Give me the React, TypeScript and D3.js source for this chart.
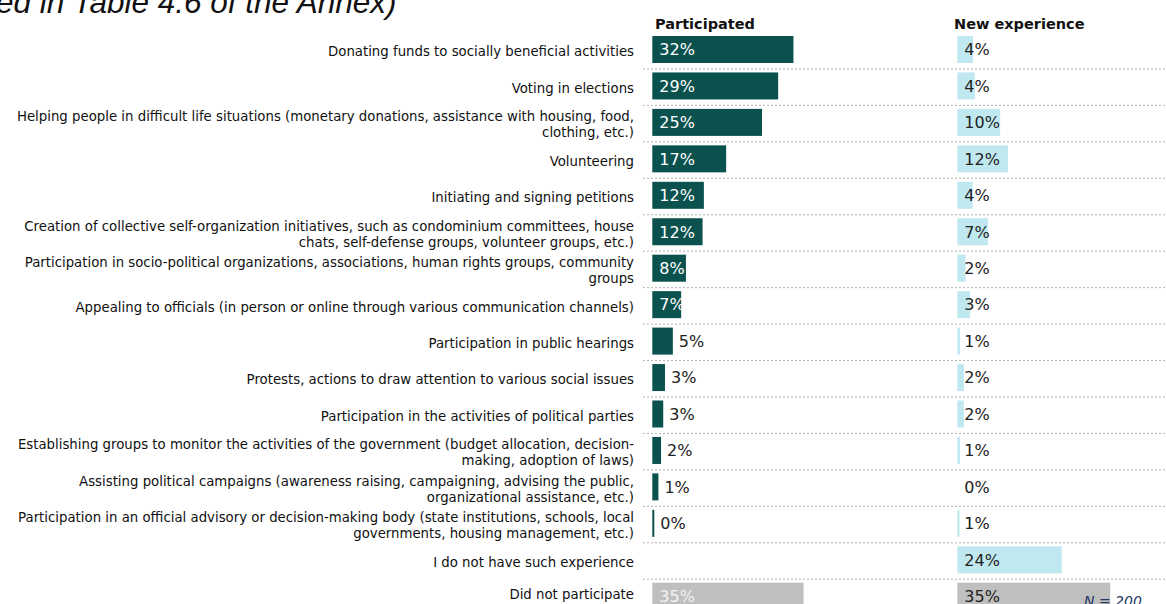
import React from "react";
import * as d3 from "d3";

const categories: string[] = [
  "Donating funds to socially beneficial activities",
  "Voting in elections",
  "Helping people in difficult life situations (monetary donations, assistance with housing, food,\nclothing, etc.)",
  "Volunteering",
  "Initiating and signing petitions",
  "Creation of collective self-organization initiatives, such as condominium committees, house\nchats, self-defense groups, volunteer groups, etc.)",
  "Participation in socio-political organizations, associations, human rights groups, community\ngroups",
  "Appealing to officials (in person or online through various communication channels)",
  "Participation in public hearings",
  "Protests, actions to draw attention to various social issues",
  "Participation in the activities of political parties",
  "Establishing groups to monitor the activities of the government (budget allocation, decision-\nmaking, adoption of laws)",
  "Assisting political campaigns (awareness raising, campaigning, advising the public,\norganizational assistance, etc.)",
  "Participation in an official advisory or decision-making body (state institutions, schools, local\ngovernments, housing management, etc.)",
  "I do not have such experience",
  "Did not participate",
];

// estimated underlying values (%), labels are rounded
const participated: (number | null)[] = [
  32.3, 28.8, 25.1, 16.9, 11.8, 11.5, 7.7, 6.6, 4.7, 2.9, 2.5, 2.0, 1.4, 0.4, null, 34.6,
];
const newExperience: (number | null)[] = [
  3.6, 4.0, 9.8, 11.6, 3.5, 7.0, 1.9, 2.9, 0.6, 1.5, 1.5, 0.6, 0, 0.5, 23.9, 35.0,
];
const columnTitles: string[] = ["Participated", "New experience"];
const sampleNote = "N = 200";
const topText = "ed in Table 4.6 of the Annex)";

const W = 1166;
const H = 604;

export default function App() {
  const n = categories.length;
  const y = d3
    .scaleBand<number>()
    .domain(d3.range(n))
    .range([32, 32 + n * 36.45]);
  const x = d3.scaleLinear().domain([0, 100]).range([0, 437]);
  const x0P = 652.3;
  const x0N = 957.3;
  const barH = 27;
  const teal = "#0b524f";
  const light = "#bfe8f0";
  const gray = "#bfbfbf";
  const labelFont = "'DejaVu Sans', sans-serif";

  const isGrayRow = (i: number) => i === n - 1;

  return (
    <svg
      width={W}
      height={H}
      style={{ position: "absolute", left: 0, top: 0, background: "#fff" }}
    >
      <rect x={0} y={0} width={W} height={H} fill="#fff" />
      <text
        x={-4}
        y={13}
        fontFamily="'Liberation Sans', Arial, sans-serif"
        fontStyle="italic"
        fontSize={31.5}
        fill="#111"
      >
        {topText}
      </text>

      {/* headers */}
      <text x={655} y={29} fontFamily={labelFont} fontWeight="bold" fontSize={14.5} fill="#111">
        {columnTitles[0]}
      </text>
      <text x={954} y={29} fontFamily={labelFont} fontWeight="bold" fontSize={14.5} fill="#111">
        {columnTitles[1]}
      </text>

      {/* separators */}
      {d3.range(1, n).map((i) => (
        <line
          key={"sep" + i}
          x1={643}
          x2={W}
          y1={(y(i) as number) + 0.5}
          y2={(y(i) as number) + 0.5}
          stroke="#b3b3b3"
          strokeWidth={1}
          strokeDasharray="2,2"
        />
      ))}

      {categories.map((cat, i) => {
        const top = y(i) as number;
        const cy = top + 4 + barH / 2;
        const lines = cat.split("\n");
        const lh = 16;
        const startY = Math.min(
          top + y.bandwidth() / 2 + 1.5 - ((lines.length - 1) * lh) / 2,
          H - 10
        );
        const p = participated[i];
        const ne = newExperience[i];
        const gr = isGrayRow(i);
        return (
          <g key={"row" + i}>
            {lines.map((ln, k) => (
              <text
                key={k}
                x={634}
                y={startY + k * lh}
                dy="0.35em"
                textAnchor="end"
                fontFamily={labelFont}
                fontSize={13.3}
                fill="#111"
              >
                {ln}
              </text>
            ))}
            {p !== null && (
              <>
                <rect
                  x={x0P}
                  y={top + 4}
                  width={Math.max(x(p), 2)}
                  height={barH}
                  fill={gr ? gray : teal}
                />
                {Math.round(p) >= 7 ? (
                  <text
                    x={x0P + 7}
                    y={cy}
                    dy="0.36em"
                    fontFamily={labelFont}
                    fontSize={16}
                    fill={gr ? "#f4f4f4" : "#fff"}
                  >
                    {Math.round(p) + "%"}
                  </text>
                ) : (
                  <text
                    x={x0P + Math.max(x(p), 2) + 6}
                    y={cy}
                    dy="0.36em"
                    fontFamily={labelFont}
                    fontSize={16}
                    fill="#222"
                  >
                    {Math.round(p) + "%"}
                  </text>
                )}
              </>
            )}
            {ne !== null && (
              <>
                <rect
                  x={x0N}
                  y={top + 4}
                  width={x(ne)}
                  height={barH}
                  fill={gr ? gray : light}
                />
                <text
                  x={x0N + 7}
                  y={cy}
                  dy="0.36em"
                  fontFamily={labelFont}
                  fontSize={16}
                  fill="#222"
                >
                  {Math.round(ne) + "%"}
                </text>
              </>
            )}
          </g>
        );
      })}

      <text
        x={1084}
        y={606}
        fontFamily={labelFont}
        fontStyle="italic"
        fontSize={14}
        fill="#1f3864"
      >
        {sampleNote}
      </text>
    </svg>
  );
}
